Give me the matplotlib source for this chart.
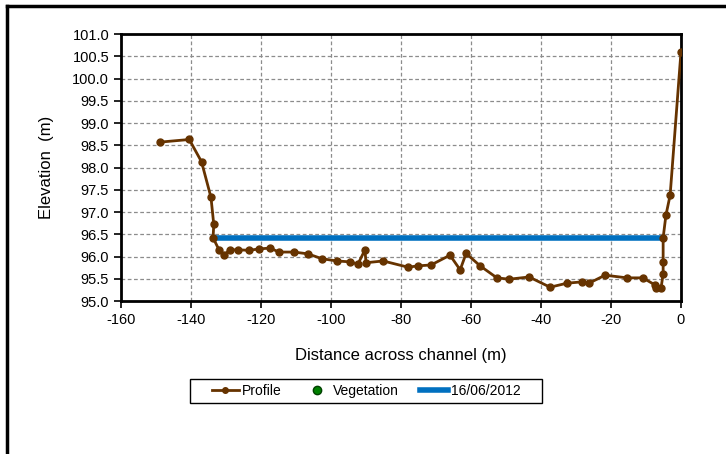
import matplotlib.pyplot as plt
from matplotlib.lines import Line2D
from matplotlib.patches import Rectangle

plt.rcParams['font.family'] = ['Liberation Sans', 'DejaVu Sans']
plt.rcParams['axes.unicode_minus'] = False

# Cross-section profile (distance across channel, elevation)
dist = [-149, -140.5, -137, -134.3, -133.5, -133.7, -132, -130.6, -128.9,
        -126.6, -123.4, -120.6, -117.4, -114.9, -110.6, -106.6, -102.6,
        -98.3, -94.6, -92.3, -90.3, -90, -85.1, -78, -75.1, -71.4, -66,
        -63.1, -61.4, -57.4, -52.6, -49.1, -43.4, -37.4, -32.6, -28.3,
        -26.3, -21.7, -15.4, -10.9, -7.4, -7.1, -5.7, -5.1, -5.1, -5.1,
        -4.3, -3.1, 0]
elev = [98.57, 98.63, 98.13, 97.33, 96.72, 96.42, 96.15, 96.03, 96.15,
        96.15, 96.14, 96.17, 96.19, 96.10, 96.10, 96.06, 95.95, 95.90,
        95.88, 95.83, 96.15, 95.86, 95.90, 95.76, 95.79, 95.81, 96.03,
        95.70, 96.07, 95.79, 95.52, 95.49, 95.54, 95.31, 95.40, 95.43,
        95.40, 95.58, 95.52, 95.52, 95.36, 95.29, 95.29, 95.61, 95.88,
        96.42, 96.93, 97.38, 100.6]

# Water level on 16/06/2012
wl_dist = [-133.7, -4.3]
wl_elev = [96.42, 96.42]

xticks = list(range(-160, 1, 20))
yticks = [95.0 + 0.5 * i for i in range(13)]

fig = plt.figure(figsize=(7.26, 4.54), dpi=100)
ax = fig.add_axes([0.1667, 0.337, 0.7713, 0.588])

ax.plot(wl_dist, wl_elev, color='#0070C0', lw=4, solid_capstyle='butt',
        label='16/06/2012', zorder=3)
ax.plot(dist, elev, color='#663300', lw=2, marker='o', ms=5,
        label='Profile', zorder=4)

ax.set_xlim(-160, 0)
ax.set_ylim(95, 101)
ax.set_xticks(xticks)
ax.set_yticks(yticks)
ax.set_yticklabels(['%.1f' % v for v in yticks])
ax.grid(True, color='#8c8c8c', ls=(0, (3, 2)), lw=0.9)
ax.set_axisbelow(True)
for s in ax.spines.values():
    s.set_linewidth(2)
ax.tick_params(direction='out', length=5, width=1.2, labelsize=10.5)
ax.set_xlabel('Distance across channel (m)', fontsize=12, labelpad=15)
ax.set_ylabel('Elevation  (m)', fontsize=12, labelpad=13)

handles = [Line2D([], [], color='#663300', lw=2, marker='o', ms=4),
           Line2D([], [], ls='none', color='#008000', marker='o', ms=6,
                  markeredgecolor='#004000'),
           Line2D([], [], color='#0070C0', lw=4)]
leg = fig.legend(handles, ['Profile', 'Vegetation', '16/06/2012'],
                 ncol=3, loc='center', bbox_to_anchor=(0.504, 0.139),
                 fontsize=10, frameon=False, handlelength=2.0,
                 handletextpad=0.2, columnspacing=1.5)

# legend box, wider than the entries as in the original
fig.add_artist(Rectangle((190 / 726, 1 - 403 / 454), 352 / 726, 24 / 454,
                         fill=False, edgecolor='black', lw=1,
                         transform=fig.transFigure))

# outer frame (only top and left visible in the crop)
fig.add_artist(Line2D([0.009, 0.009], [0, 0.987], color='black', lw=2.5,
                      transform=fig.transFigure))
fig.add_artist(Line2D([0.009, 1], [0.987, 0.987], color='black', lw=2.5,
                      transform=fig.transFigure))

fig.savefig('out.png', dpi=100)
